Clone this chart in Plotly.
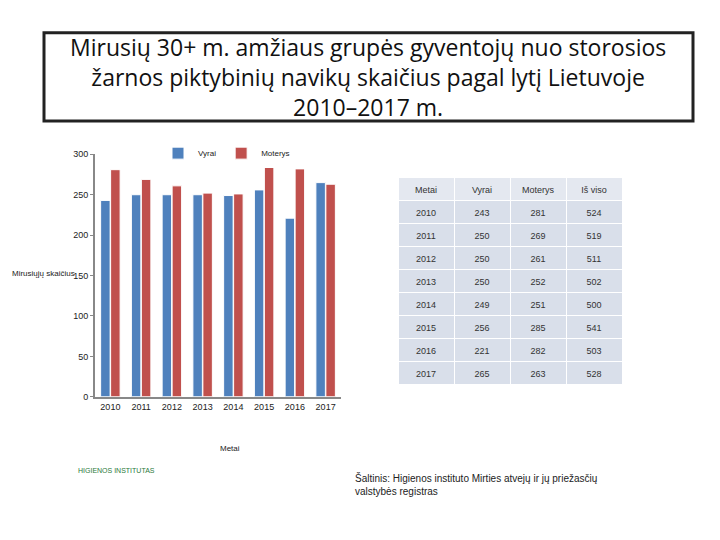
import plotly.graph_objects as go

years = ["2010", "2011", "2012", "2013", "2014", "2015", "2016", "2017"]
vyrai = [243, 250, 250, 250, 249, 256, 221, 265]
moterys = [281, 269, 261, 252, 251, 285, 282, 263]
is_viso = [524, 519, 511, 502, 500, 541, 503, 528]

W, H = 720, 540
fig = go.Figure()
fig.add_trace(go.Bar(x=years, y=vyrai, name="Vyrai", marker=dict(color="#4f81bd", line=dict(color="#ffffff", width=1))))
fig.add_trace(go.Bar(x=years, y=moterys, name="Moterys", marker=dict(color="#c0504d", line=dict(color="#ffffff", width=1))))

fig.add_trace(go.Table(
    domain=dict(x=[390 / W, 614 / W], y=[1 - 384 / H, 1 - 168 / H]),
    columnwidth=[1, 1, 1, 1],
    header=dict(values=["Metai", "Vyrai", "Moterys", "Iš viso"],
                fill_color="#e4e8f0", line_color="white", align="center",
                font=dict(size=9, color="#333"), height=23),
    cells=dict(values=[years, vyrai, moterys, is_viso],
               fill_color="#d9dfea", line_color="white", align="center",
               font=dict(size=9, color="#333"), height=23),
))

fig.update_layout(
    width=W, height=H, margin=dict(l=0, r=0, t=0, b=0),
    paper_bgcolor="white", plot_bgcolor="white",
    font=dict(family="Liberation Sans", size=9, color="#222"),
    barmode="group", bargap=0.35, bargroupgap=0.05,
    xaxis=dict(domain=[87 / W, 333 / W], showline=True, linecolor="#888", linewidth=2,
               ticks="", tickfont=dict(size=9)),
    yaxis=dict(domain=[1 - 391 / H, 1 - 144 / H], range=[0, 300], dtick=50,
               showline=True, linecolor="#888", linewidth=2, showgrid=False,
               ticks="outside", ticklen=3, tickcolor="#888", tickfont=dict(size=9)),
    legend=dict(orientation="h", x=150 / W, y=1 - 128 / H, yanchor="top",
                font=dict(size=8), itemwidth=30),
    annotations=[
        dict(text="Metai", x=210 / W, y=1 - 450 / H, xref="paper", yref="paper",
             showarrow=False, font=dict(size=8)),
        dict(text="Mirusiųjų skaičius", x=2 / W, y=1 - 265 / H, xref="paper", yref="paper",
             xanchor="left", showarrow=False, font=dict(size=8)),
        dict(text="Šaltinis: Higienos instituto Mirties atvejų ir jų priežasčių<br>valstybės registras",
             x=345 / W, y=1 - 466 / H, xref="paper", yref="paper", xanchor="left", yanchor="top",
             align="left", showarrow=False, font=dict(size=10, color="#222")),
        dict(text="Mirusių 30+ m. amžiaus grupės gyventojų nuo storosios<br>žarnos piktybinių navikų skaičius pagal lytį Lietuvoje<br>2010–2017 m.",
             x=0.5, y=1 - 16 / H, xref="paper", yref="paper", yanchor="top", showarrow=False,
             font=dict(family="Open Sans", size=23, color="#111")),
        dict(text="HIGIENOS INSTITUTAS", x=68 / W, y=1 - 472 / H, xref="paper", yref="paper",
             showarrow=False, font=dict(size=7, color="#2a7a3a")),
    ],
    shapes=[dict(type="rect", xref="paper", yref="paper", x0=36 / W, x1=685 / W,
                 y0=1 - 110 / H, y1=1 - 20 / H, line=dict(color="#222", width=3))],
)
fig.write_html("out.html")
